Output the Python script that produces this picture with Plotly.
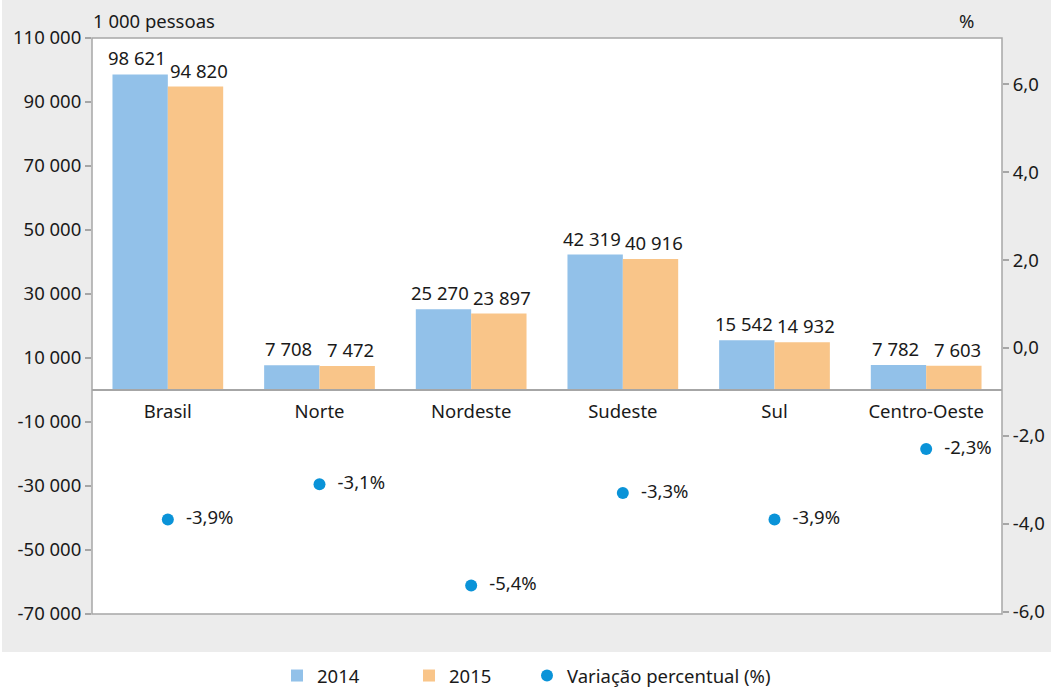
import plotly.graph_objects as go

categories = ["Brasil", "Norte", "Nordeste", "Sudeste", "Sul", "Centro-Oeste"]
values_2014 = [98621, 7708, 25270, 42319, 15542, 7782]
values_2015 = [94820, 7472, 23897, 40916, 14932, 7603]
variation = [-3.9, -3.1, -5.4, -3.3, -3.9, -2.3]

left_ticks = [-70000, -50000, -30000, -10000, 10000, 30000, 50000, 70000, 90000, 110000]
right_ticks = [-6, -4, -2, 0, 2, 4, 6]


def fmt_thousands(v):
    s = f"{abs(v):,}".replace(",", " ")
    return ("-" if v < 0 else "") + s


def fmt_dec(v, d=1):
    return f"{v:.{d}f}".replace(".", ",")


FONT = "Noto Sans"
FS = 18.5
TXT = "#1a1a1a"
GRID = "#a6a6a6"
BLUE = "#92C1E9"
ORANGE = "#F9C589"
DOT = "#0A93D8"

# plot area geometry in px: left 92, right 1002, top 38, bottom 614
W, H = 1051, 690
L, R, T, B = 92, 1002, 38, 614
pw, ph = R - L, B - T
BARGAP = 0.27
bar_px = pw / len(categories) * (1 - BARGAP) / 2


def px_x(x):
    return (x - L) / pw


def px_y(y):
    return (B - y) / ph


fig = go.Figure()
fig.add_trace(go.Bar(x=categories, y=values_2014, name="2014", marker_color=BLUE, marker_line_width=0,
                     legend="legend"))
fig.add_trace(go.Bar(x=categories, y=values_2015, name="2015", marker_color=ORANGE, marker_line_width=0,
                     legend="legend2"))
fig.add_trace(go.Scatter(
    x=categories, y=variation, yaxis="y2", name="Variação percentual (%)", legend="legend3",
    mode="markers+text", marker=dict(color=DOT, size=12),
    text=["  " + fmt_dec(v) + "%" for v in variation], textposition="middle right",
    textfont=dict(family=FONT, size=FS, color=TXT), cliponaxis=False,
))

annotations = []
for vals, sh in ((values_2014, -bar_px / 2 - 3), (values_2015, bar_px / 2 + 3.5)):
    for c, v in zip(categories, vals):
        annotations.append(dict(x=c, y=v, xref="x", yref="y", text=fmt_thousands(v), showarrow=False,
                                xanchor="center", yanchor="bottom", xshift=sh, yshift=2,
                                font=dict(family=FONT, size=FS, color=TXT)))
annotations += [
    dict(text="1 000 pessoas", xref="paper", yref="paper", x=px_x(91), y=px_y(20), xanchor="left",
         yanchor="middle", showarrow=False, font=dict(family=FONT, size=FS, color=TXT)),
    dict(text="%", xref="paper", yref="paper", x=px_x(966), y=px_y(20), xanchor="center",
         yanchor="middle", showarrow=False, font=dict(family=FONT, size=FS, color=TXT)),
]


def leg(xpx):
    return dict(orientation="h", x=px_x(xpx), xanchor="left", y=px_y(676), yanchor="middle",
                font=dict(family=FONT, size=FS, color=TXT), bgcolor="rgba(0,0,0,0)")


fig.update_layout(
    width=W, height=H,
    margin=dict(l=L, r=W - R, t=T, b=H - B, autoexpand=False),
    paper_bgcolor="white", plot_bgcolor="rgba(0,0,0,0)",
    font=dict(family=FONT, size=FS, color=TXT),
    barmode="group", bargap=BARGAP, bargroupgap=0,
    showlegend=True,
    legend=leg(277), legend2=leg(409), legend3=leg(527),
    xaxis=dict(anchor="free", position=70000 / 180000, showline=True, linecolor=GRID, linewidth=1.5,
               ticks="", showgrid=False, zeroline=False, ticklabelstandoff=5,
               tickfont=dict(family=FONT, size=FS, color=TXT)),
    yaxis=dict(range=[-70000, 110000], tickvals=left_ticks, ticktext=[fmt_thousands(v) for v in left_ticks],
               showgrid=False, zeroline=False, showline=False, ticks="outside", ticklen=6,
               tickcolor=GRID, tickwidth=1.5, tickfont=dict(family=FONT, size=FS, color=TXT)),
    yaxis2=dict(overlaying="y", side="right", range=[-6.05, 7.05], tickvals=right_ticks,
                ticktext=[fmt_dec(v) for v in right_ticks], showgrid=False, zeroline=False,
                showline=False, ticks="outside", ticklen=6, tickcolor=GRID, tickwidth=1.5,
                tickfont=dict(family=FONT, size=FS, color=TXT)),
    shapes=[
        dict(type="rect", xref="paper", yref="paper", x0=px_x(2), x1=px_x(1051), y0=px_y(652), y1=px_y(0),
             fillcolor="#ececec", line=dict(width=0), layer="below"),
        dict(type="rect", xref="paper", yref="paper", x0=0, x1=1, y0=0, y1=1,
             fillcolor="white", line=dict(width=1.5, color=GRID), layer="below"),
    ],
    annotations=annotations,
)

fig.write_html("out.html", config={"displayModeBar": False},
               post_script="document.body.style.margin='0';document.body.style.overflow='hidden';")
